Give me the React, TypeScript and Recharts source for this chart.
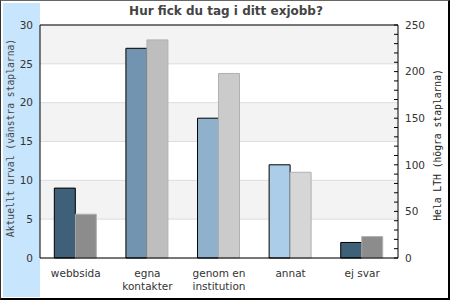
import React from 'react';
import { BarChart, Bar, XAxis, YAxis, CartesianGrid, Cell, ReferenceLine } from 'recharts';

const categories = ['webbsida', 'egna\nkontakter', 'genom en\ninstitution', 'annat', 'ej svar'];
const urval = [9, 27, 18, 12, 2];
const lth = [47, 234, 198, 92, 23];
const urvalColors = ['#3f6079', '#7294b0', '#8fb1cc', '#abcde9', '#3f6079'];
const lthColors = ['#8c8c8c', '#bebebe', '#cbcbcb', '#d6d6d6', '#8c8c8c'];
const leftTicks = [0, 5, 10, 15, 20, 25, 30];
const rightTicks = [0, 10, 20, 30, 40, 50, 60, 70, 80, 90, 100, 110, 120, 130, 140, 150, 160, 170, 180, 190, 200, 210, 220, 230, 240, 250];

const data = categories.map((c, i) => ({ name: c, urval: urval[i], lth: lth[i] }));

const FONT = 'DejaVu Sans, sans-serif';
const MONO = 'DejaVu Sans Mono, monospace';

const XTick = (props: any) => {
  const { x, y, payload } = props;
  const lines = String(payload.value).split('\n');
  return (
    <g>
      {lines.map((l: string, i: number) => (
        <text key={i} x={x} y={y + 19 + i * 13} textAnchor="middle" fontSize={10.5} fontFamily={FONT} fill="#333">
          {l}
        </text>
      ))}
    </g>
  );
};

const RightTick = (props: any) => {
  const { x, y, payload } = props;
  const axisX = x - 7;
  const v = payload.value;
  return (
    <g>
      <line x1={axisX - 4} x2={axisX} y1={y} y2={y} stroke="#000" strokeWidth={1} />
      {v % 50 === 0 ? (
        <text x={x} y={y} dy="0.36em" textAnchor="start" fontSize={10.5} fontFamily={FONT} fill="#333">
          {v}
        </text>
      ) : null}
    </g>
  );
};

export default function App() {
  return (
    <div style={{ position: 'absolute', left: 0, top: 0, width: 450, height: 300, background: '#fff' }}>
      <div style={{ position: 'absolute', left: 3, top: 3, width: 37, height: 294, background: '#c7e6fd' }} />
      <div style={{ position: 'absolute', left: 0, top: 0 }}>
        <BarChart
          width={450}
          height={300}
          data={data}
          margin={{ top: 25, right: 0, bottom: 12, left: 0 }}
          barCategoryGap="20%"
          barGap={0}
        >
          <CartesianGrid
            yAxisId="left"
            vertical={false}
            stroke="#dddddd"
            horizontalFill={['#f3f3f3', '#ffffff']}
          />
          <XAxis
            dataKey="name"
            tick={<XTick />}
            tickLine={false}
            tickSize={0}
            tickMargin={0}
            height={30}
            axisLine={{ stroke: '#000' }}
            interval={0}
          />
          <YAxis
            yAxisId="left"
            orientation="left"
            domain={[0, 30]}
            ticks={leftTicks}
            width={40}
            tickLine={false}
            tickSize={0}
            tickMargin={7}
            axisLine={{ stroke: '#000' }}
            tick={{ fill: '#333', fontSize: 10.5, fontFamily: FONT }}
            interval={0}
          />
          <YAxis
            yAxisId="right"
            orientation="right"
            domain={[0, 250]}
            ticks={rightTicks}
            width={52}
            tickLine={false}
            tickSize={0}
            tickMargin={7}
            axisLine={{ stroke: '#000' }}
            tick={<RightTick />}
            interval={0}
          />
          <ReferenceLine yAxisId="left" y={30} stroke="#000" />
          <Bar dataKey="urval" yAxisId="left" stroke="#000" strokeWidth={1} isAnimationActive={false}>
            {data.map((d, i) => (
              <Cell key={i} fill={urvalColors[i]} />
            ))}
          </Bar>
          <Bar dataKey="lth" yAxisId="right" stroke="#b0b0b0" strokeWidth={1} isAnimationActive={false}>
            {data.map((d, i) => (
              <Cell key={i} fill={lthColors[i]} />
            ))}
          </Bar>
        </BarChart>
      </div>
      <div
        style={{
          position: 'absolute',
          left: 226,
          top: 11,
          transform: 'translate(-50%, -50%)',
          whiteSpace: 'nowrap',
          fontFamily: FONT,
          fontWeight: 'bold',
          fontSize: 12,
          color: '#444',
        }}
      >
        Hur fick du tag i ditt exjobb?
      </div>
      <div
        style={{
          position: 'absolute',
          left: 10,
          top: 138,
          transform: 'translate(-50%, -50%) rotate(-90deg)',
          whiteSpace: 'nowrap',
          fontFamily: MONO,
          fontSize: 9.7,
          color: '#444',
        }}
      >
        Aktuellt urval (vänstra staplarna)
      </div>
      <div
        style={{
          position: 'absolute',
          left: 437,
          top: 145,
          transform: 'translate(-50%, -50%) rotate(-90deg)',
          whiteSpace: 'nowrap',
          fontFamily: MONO,
          fontSize: 9.7,
          color: '#222',
        }}
      >
        Hela LTH (högra staplarna)
      </div>
      <div
        style={{
          position: 'absolute',
          left: 0,
          top: 0,
          width: 450,
          height: 300,
          boxSizing: 'border-box',
          borderLeft: '1px solid #333',
          borderTop: '1px solid #666',
          borderRight: '2px solid #000',
          borderBottom: '2px solid #000',
          pointerEvents: 'none',
        }}
      />
    </div>
  );
}
